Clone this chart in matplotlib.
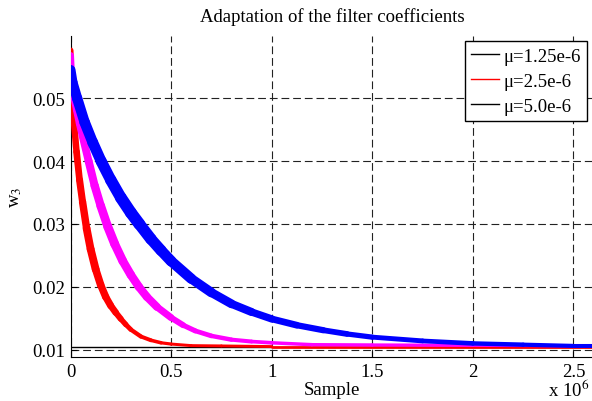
import numpy as np
import matplotlib
matplotlib.use('Agg')
import matplotlib.pyplot as plt
from matplotlib.collections import LineCollection
from matplotlib.lines import Line2D
from matplotlib.ticker import FuncFormatter

plt.rcParams['font.family'] = ['Liberation Serif', 'DejaVu Serif']
plt.rcParams['mathtext.fontset'] = 'stix'

# values (sample index in millions, w3)
red_x = [0, 0.004, 0.015, 0.03, 0.045, 0.06, 0.08, 0.1, 0.125, 0.15, 0.175, 0.2,
         0.225, 0.25, 0.275, 0.3, 0.35, 0.4, 0.45, 0.5, 0.6, 0.75, 1.0, 2.6]
red_w = [0.0576, 0.0530, 0.0470, 0.0415, 0.0370, 0.0335, 0.0293, 0.0260, 0.0228,
         0.0203, 0.0184, 0.0170, 0.0159, 0.0149, 0.0140, 0.0132, 0.0121, 0.0115,
         0.0111, 0.0109, 0.01065, 0.0106, 0.0105, 0.0105]

mag_x = [0, 0.005, 0.015, 0.03, 0.045, 0.06, 0.09, 0.12, 0.15, 0.185, 0.22, 0.26,
         0.3, 0.34, 0.38, 0.43, 0.5, 0.56, 0.62, 0.7, 0.8, 0.9, 1.0, 1.2, 1.5, 2.0, 2.6]
mag_w = [0.0568, 0.0535, 0.0505, 0.0482, 0.0460, 0.0440, 0.0400, 0.0361, 0.0329,
         0.0296, 0.0268, 0.0241, 0.0219, 0.0200, 0.0184, 0.0168, 0.0151, 0.0139,
         0.0130, 0.0122, 0.0116, 0.0113, 0.0111, 0.0108, 0.01075, 0.0107, 0.0106]

blue_x = [0, 0.01, 0.033, 0.07, 0.11, 0.152, 0.2, 0.25, 0.3, 0.342, 0.4, 0.45, 0.5,
          0.6, 0.7, 0.8, 0.9, 1.0, 1.125, 1.257, 1.375, 1.5, 1.75, 2.0, 2.25, 2.5, 2.6]
blue_w = [0.0545, 0.0525, 0.0500, 0.0462, 0.0430, 0.0400, 0.0370, 0.0342, 0.0318,
          0.0300, 0.0276, 0.0258, 0.0241, 0.0213, 0.0191, 0.0173, 0.0160, 0.0149,
          0.0139, 0.0131, 0.0125, 0.0120, 0.0114, 0.0110, 0.0108, 0.0106, 0.0106]

w_opt = 0.0104

xticks = [0, 0.5, 1.0, 1.5, 2.0, 2.5]
yticks = [0.01, 0.02, 0.03, 0.04, 0.05]

legend_labels = ['\u03bc=1.25e-6', '\u03bc=2.5e-6', '\u03bc=5.0e-6']
legend_colors = ['black', 'red', 'black']

# thickness (px) of the noisy bands along x (style only)
red_band = ([0, 0.1, 0.2, 0.3, 0.5, 2.6], [6, 8, 7, 4.5, 3, 2.5])
mag_band = ([0, 0.2, 0.4, 0.6, 1.0, 2.6], [7, 9, 8, 5, 3.5, 3])
blue_band = ([0, 0.3, 0.6, 1.0, 1.5, 2.6], [10, 12, 10, 7, 5, 4])

fig = plt.figure(figsize=(5.92, 4.02), dpi=100)
ax = fig.add_axes([70.5 / 592, 44 / 402, 523 / 592, 321 / 402])


def band(x, y, width_spec, color, z):
    x = np.asarray(x) * 1e6
    pts = np.column_stack([x, y]).reshape(-1, 1, 2)
    segs = np.concatenate([pts[:-1], pts[1:]], axis=1)
    mid = (x[:-1] + x[1:]) / 2e6
    lw = np.interp(mid, *width_spec) * 0.72
    lc = LineCollection(segs, colors=color, linewidths=lw, capstyle='round',
                        joinstyle='round', zorder=z)
    ax.add_collection(lc)


ax.axhline(w_opt, color='black', lw=1.0, zorder=2)
band(red_x, red_w, red_band, '#ff0000', 3)
band(mag_x, mag_w, mag_band, '#ff00ff', 4)
band(blue_x, blue_w, blue_band, '#0000ff', 5)

ax.set_xlim(0, 2.6e6)
ax.set_ylim(0.00884, 0.0599)
ax.set_xticks([t * 1e6 for t in xticks])
ax.set_yticks(yticks)
ax.xaxis.set_major_formatter(FuncFormatter(lambda v, p: f'{v / 1e6:g}'))
ax.tick_params(direction='in', length=4, width=0.8, labelsize=13.5, pad=4)

ax.grid(True, color='#222222', linestyle=(0, (7, 3.5)), linewidth=0.8)
ax.set_axisbelow(True)
ax.spines['top'].set_visible(False)
ax.spines['right'].set_visible(False)
for s in ['left', 'bottom']:
    ax.spines[s].set_color('black')
    ax.spines[s].set_linewidth(0.8)

ax.set_title('Adaptation of the filter coefficients', fontsize=13.5, pad=11)
ax.set_xlabel('Sample', fontsize=13.5, labelpad=1)
ax.set_ylabel('w$_3$', fontsize=13.5, labelpad=6)

handles = [Line2D([], [], color=c, lw=1.0) for c in legend_colors]
leg = ax.legend(handles, legend_labels, loc='upper right',
                bbox_to_anchor=(587 / 592, 1 - 42 / 402), bbox_transform=fig.transFigure,
                fontsize=13.5, fancybox=False, framealpha=1, edgecolor='black',
                borderpad=0.35, labelspacing=0.42, handlelength=1.5, handletextpad=0.2,
                borderaxespad=0)
leg.get_frame().set_linewidth(1.0)

fig.text(589 / 592, 0.012, 'x 10$^{6}$', fontsize=13.5, va='baseline', ha='right')

fig.savefig('out.png', dpi=100)
